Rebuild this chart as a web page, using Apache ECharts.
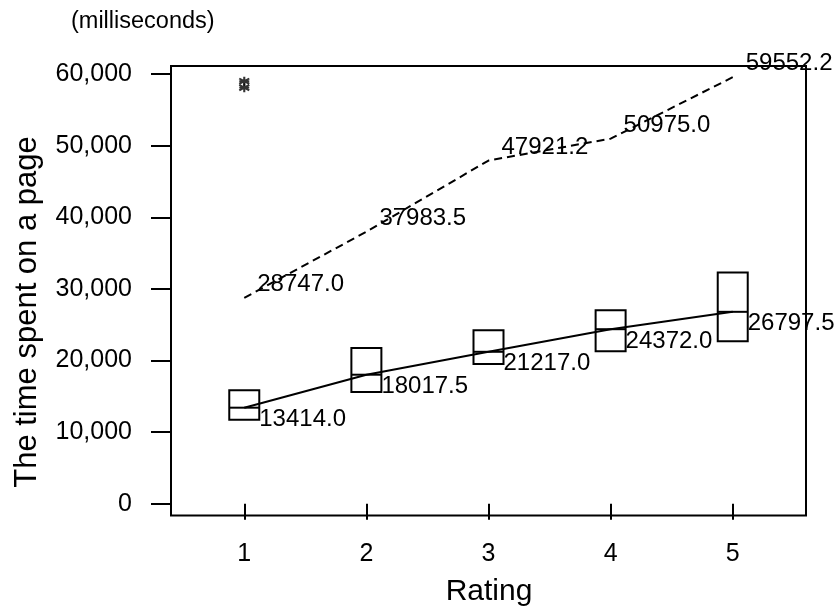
<!DOCTYPE html>
<html>
<head>
<meta charset="utf-8">
<title>Time spent on a page by rating</title>
<script src="https://cdn.jsdelivr.net/npm/echarts@6/dist/echarts.min.js"></script>
<style>
  html, body { margin: 0; padding: 0; background: #fff; }
  #chart { width: 836px; height: 614px; }
</style>
</head>
<body>
<div id="chart"></div>
<script>
// Rating categories (x positions)
const ratings = [1, 2, 3, 4, 5];
// Interquartile boxes: lower and upper quartiles per rating (ms)
const boxQ1 = [11740, 15600, 19510, 21290, 22680];
const boxQ3 = [15840, 21750, 24220, 27020, 32290];
// Medians, connected by the solid line
const medians = [13414.0, 18017.5, 21217.0, 24372.0, 26797.5];
// Upper values, connected by the dashed line
const upperValues = [28747.0, 37983.5, 47921.2, 50975.0, 59552.2];
// Outliers at rating 1
const outlierRatings = [1, 1];
const outlierValues = [59000, 58100];
// Tick values
const xTickValues = [1, 2, 3, 4, 5];
const yTickValues = [0, 10000, 20000, 30000, 40000, 50000, 60000];

const FONT = 'Liberation Sans, Arial, sans-serif';

function thousands(v) {
  return String(v).replace(/\B(?=(\d{3})+(?!\d))/g, ',');
}

function renderBox(params, api) {
  const x = api.value(0);
  const lo = api.coord([x, api.value(1)]);
  const md = api.coord([x, api.value(2)]);
  const hi = api.coord([x, api.value(3)]);
  const half = 15;
  return {
    type: 'group',
    children: [
      {
        type: 'rect',
        shape: { x: lo[0] - half, y: hi[1], width: half * 2, height: lo[1] - hi[1] },
        style: { fill: 'none', stroke: '#000', lineWidth: 2 }
      },
      {
        type: 'line',
        shape: { x1: md[0] - half, y1: md[1], x2: md[0] + half, y2: md[1] },
        style: { stroke: '#000', lineWidth: 2 }
      }
    ]
  };
}

const chart = echarts.init(document.getElementById('chart'), null, { renderer: 'canvas' });

chart.setOption({
  animation: false,
  backgroundColor: '#fff',
  textStyle: { fontFamily: FONT, color: '#000' },
  grid: {
    left: 171, right: 30, top: 66, bottom: 98.5,
    show: true, borderColor: '#000', borderWidth: 2,
    outerBoundsMode: 'none'
  },
  xAxis: {
    type: 'value',
    min: 0.4, max: 5.6,
    axisLine: { show: false },
    splitLine: { show: false },
    axisTick: {
      show: true, length: 16, inside: false,
      customValues: xTickValues,
      lineStyle: { color: '#000', width: 2 }
    },
    axisLabel: {
      customValues: xTickValues,
      margin: 26,
      fontSize: 25, fontFamily: FONT, color: '#000'
    }
  },
  yAxis: {
    type: 'value',
    min: -1640, max: 61120,
    axisLine: { show: false },
    splitLine: { show: false },
    axisTick: {
      show: true, length: 20, inside: false,
      customValues: yTickValues,
      lineStyle: { color: '#000', width: 2 }
    },
    axisLabel: {
      customValues: yTickValues,
      margin: 39,
      fontSize: 25, fontFamily: FONT, color: '#000',
      formatter: function (v) { return thousands(v); }
    }
  },
  graphic: [
    {
      type: 'text', x: 71, y: 22,
      style: {
        text: '(milliseconds)', fontSize: 23.5, fontFamily: FONT, fill: '#000',
        align: 'left', verticalAlign: 'middle'
      }
    },
    {
      type: 'text', x: 27, y: 312, rotation: Math.PI / 2,
      style: {
        text: 'The time spent on a page', fontSize: 31, fontFamily: FONT, fill: '#000',
        align: 'center', verticalAlign: 'middle'
      }
    },
    {
      type: 'text', x: 489, y: 592,
      style: {
        text: 'Rating', fontSize: 30, fontFamily: FONT, fill: '#000',
        align: 'center', verticalAlign: 'middle'
      }
    }
  ],
  series: [
    {
      name: 'Quartile box',
      type: 'custom',
      renderItem: renderBox,
      encode: { x: 0, y: [1, 2, 3] },
      data: ratings.map((r, i) => [r, boxQ1[i], medians[i], boxQ3[i]]),
      silent: true,
      z: 2
    },
    {
      name: 'Median',
      type: 'line',
      data: ratings.map((r, i) => [r, medians[i]]),
      symbol: 'circle', symbolSize: 0,
      lineStyle: { color: '#000', width: 2 },
      itemStyle: { color: '#000' },
      label: {
        show: true, position: 'right', distance: 15, offset: [0, 12],
        fontSize: 24, fontFamily: FONT, color: '#000',
        formatter: p => p.value[1].toFixed(1)
      },
      silent: true,
      z: 3
    },
    {
      name: 'Upper',
      type: 'line',
      data: ratings.map((r, i) => [r, upperValues[i]]),
      symbol: 'circle', symbolSize: 0,
      lineStyle: { color: '#000', width: 2, type: [8, 5] },
      itemStyle: { color: '#000' },
      label: {
        show: true, position: 'right', distance: 13, offset: [0, -13.5],
        fontSize: 24, fontFamily: FONT, color: '#000',
        formatter: p => p.value[1].toFixed(1)
      },
      silent: true,
      z: 3
    },
    {
      name: 'Outlier',
      type: 'scatter',
      data: outlierRatings.map((r, i) => [r, outlierValues[i]]),
      symbol: 'path://M0,0L0,10M-4,2L4,8M-4,8L4,2M-4,5L4,5',
      symbolSize: [10, 9],
      itemStyle: { color: 'none', borderColor: '#000', borderWidth: 2 },
      silent: true,
      z: 4
    }
  ]
});
</script>
</body>
</html>
